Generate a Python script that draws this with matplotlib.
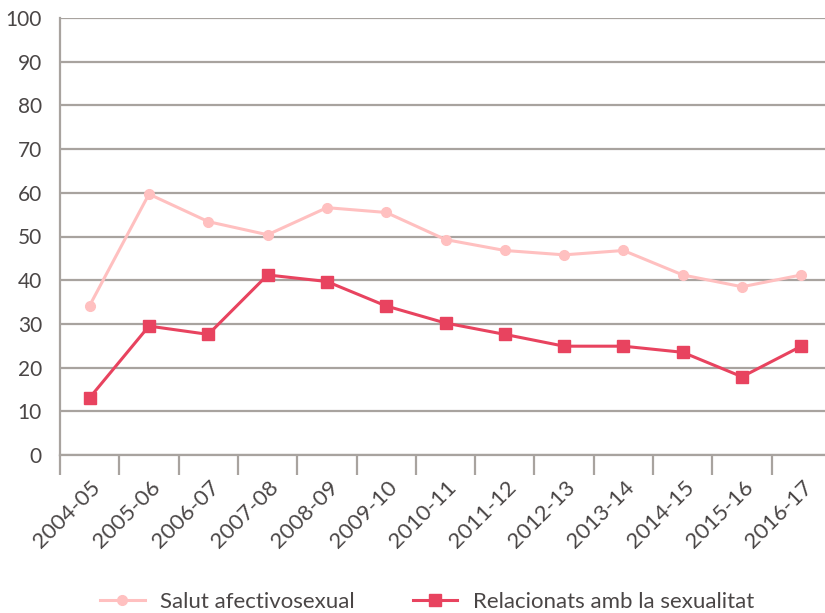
import matplotlib.pyplot as plt
import matplotlib.transforms as mtransforms
import numpy as np

# school years and percentages
years = ['2004-05', '2005-06', '2006-07', '2007-08', '2008-09', '2009-10', '2010-11',
         '2011-12', '2012-13', '2013-14', '2014-15', '2015-16', '2016-17']
salut = [34.2, 59.7, 53.4, 50.4, 56.6, 55.5, 49.3, 46.8, 45.8, 46.8, 41.2, 38.5, 41.2]
relacionats = [13.1, 29.5, 27.6, 41.2, 39.7, 34.1, 30.2, 27.6, 24.9, 24.9, 23.5, 17.9, 24.9]
yticks = list(range(0, 101, 10))

plt.rcParams['font.family'] = ['Lato', 'DejaVu Sans']
txt = '#4a4646'
grid = '#a8a39f'

fig = plt.figure(figsize=(8.25, 6.13), dpi=100)
ax = fig.add_axes([60/825, 1-455/613, 771/825, 437/613])

x = np.arange(len(years))
ax.plot(x, salut, color='#ffc0c0', lw=2.2, marker='o', ms=7, label='Salut afectivosexual', zorder=3)
ax.plot(x, relacionats, color='#e8435f', lw=2.2, marker='s', ms=9, label='Relacionats amb la sexualitat', zorder=4)

ax.set_xlim(-0.5, len(years)-0.5)
ax.set_ylim(0, 100)
ax.set_yticks(yticks)
ax.yaxis.grid(True, color=grid, lw=1.6)
ax.set_axisbelow(True)
for s in ['top', 'right']:
  ax.spines[s].set_visible(False)
for s in ['left', 'bottom']:
  ax.spines[s].set_color(grid)
  ax.spines[s].set_linewidth(1.6)

ax.tick_params(axis='y', length=0, pad=13, labelsize=15, labelcolor=txt)
ax.set_xticks(x)
ax.set_xticklabels(years, rotation=45, ha='right', va='center', rotation_mode='anchor')
ax.tick_params(axis='x', which='major', length=0, pad=21, labelsize=16, labelcolor=txt)
ax.set_xticks(np.arange(-0.5, len(years), 1.0), minor=True)
ax.tick_params(axis='x', which='minor', length=14.5, width=1.6, color=grid, direction='out')
# nudge the rotated labels to the right a bit
shift = mtransforms.ScaledTranslation(8/100, 0, fig.dpi_scale_trans)
for lab in ax.get_xticklabels():
  lab.set_transform(lab.get_transform() + shift)

fig.legend(loc='center', bbox_to_anchor=(427/825, 1-602/613), ncol=2, frameon=False,
           fontsize=16, labelcolor=txt, handlelength=2.0, columnspacing=2.6, handletextpad=0.7)

plt.savefig('out.png', dpi=100)
